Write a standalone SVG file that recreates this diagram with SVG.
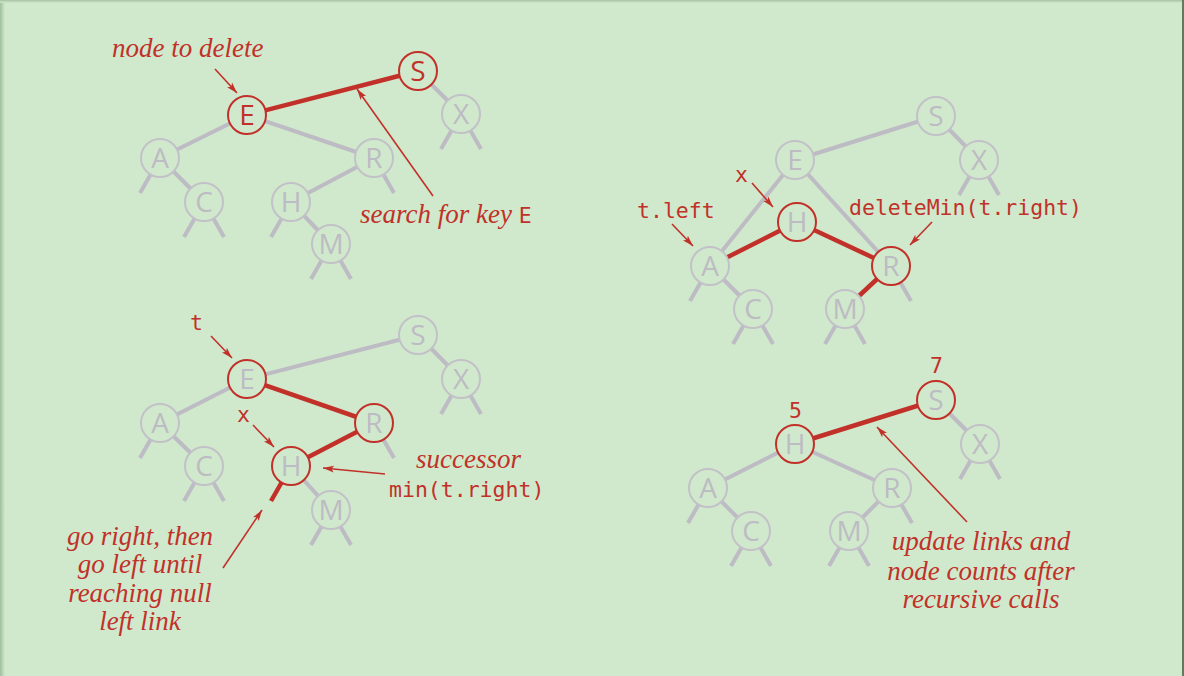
<svg xmlns="http://www.w3.org/2000/svg" width="1184" height="676" viewBox="0 0 1184 676">
<defs>
<style>
.bg{fill:#d0e9cc}
.g{stroke:#bdbbc3;stroke-width:4;fill:none;stroke-linecap:butt}
.r{stroke:#c1312a;stroke-width:4.5;fill:none}
.n{fill:#d0e9cc;stroke:#c3c1c8;stroke-width:2}
.nr{fill:#d0e9cc;stroke:#c1312a;stroke-width:2}
.lt{font-family:"Open Sans","DejaVu Sans",sans-serif;font-size:28px;fill:#bdbbc3;text-anchor:middle}
.ltr{font-family:"Open Sans","DejaVu Sans",sans-serif;font-size:28px;fill:#c1312a;text-anchor:middle}
.it{font-family:"Liberation Serif","Times New Roman",serif;font-style:italic;font-size:27px;fill:#c1312a}
.mo{font-family:"DejaVu Sans Mono","Liberation Mono",monospace;font-size:21.5px;fill:#c1312a}
.ar{stroke:#c1312a;stroke-width:1.6;fill:none;marker-end:url(#ah)}
</style>
<marker id="ah" markerUnits="userSpaceOnUse" markerWidth="12" markerHeight="8" refX="11" refY="4" orient="auto">
<path d="M0,0.6 L11,4 L0,7.4 L2.5,4 z" fill="#c1312a"/>
</marker>
<linearGradient id="shL" x1="0" y1="0" x2="1" y2="0">
<stop offset="0" stop-color="#9fbf9b"/><stop offset="1" stop-color="#d0e9cc"/>
</linearGradient>
<linearGradient id="shT" x1="0" y1="0" x2="0" y2="1">
<stop offset="0" stop-color="#a7c2a3"/><stop offset="1" stop-color="#d0e9cc"/>
</linearGradient>
</defs>
<rect class="bg" x="0" y="0" width="1184" height="676"/>
<rect x="0" y="0" width="5" height="676" fill="url(#shL)"/>
<rect x="0" y="0" width="1184" height="3" fill="url(#shT)"/>
<rect x="1182" y="0" width="2" height="676" fill="#5f7d5c"/>

<g id="connectors">
<!-- diagram 1 -->
<line class="g" x1="247" y1="115" x2="160" y2="158"/>
<line class="g" x1="160" y1="158" x2="204" y2="202"/>
<line class="g" x1="160" y1="158" x2="140" y2="193"/>
<line class="g" x1="204" y1="202" x2="184" y2="237"/>
<line class="g" x1="204" y1="202" x2="224" y2="237"/>
<line class="g" x1="247" y1="115" x2="374" y2="158"/>
<line class="g" x1="374" y1="158" x2="291" y2="202"/>
<line class="g" x1="374" y1="158" x2="394" y2="193"/>
<line class="g" x1="291" y1="202" x2="271" y2="237"/>
<line class="g" x1="291" y1="202" x2="331" y2="244"/>
<line class="g" x1="331" y1="244" x2="311" y2="279"/>
<line class="g" x1="331" y1="244" x2="351" y2="279"/>
<line class="g" x1="418" y1="71" x2="461" y2="114"/>
<line class="g" x1="461" y1="114" x2="441" y2="149"/>
<line class="g" x1="461" y1="114" x2="481" y2="149"/>
<line class="r" x1="247" y1="115" x2="418" y2="71"/>
<!-- diagram 2 -->
<line class="g" x1="936" y1="116" x2="795" y2="160"/>
<line class="g" x1="936" y1="116" x2="979" y2="160"/>
<line class="g" x1="979" y1="160" x2="959" y2="195"/>
<line class="g" x1="979" y1="160" x2="999" y2="195"/>
<line class="g" x1="795" y1="160" x2="710" y2="266"/>
<line class="g" x1="795" y1="160" x2="891" y2="266"/>
<line class="g" x1="710" y1="266" x2="690" y2="301"/>
<line class="g" x1="710" y1="266" x2="753" y2="309"/>
<line class="g" x1="753" y1="309" x2="733" y2="344"/>
<line class="g" x1="753" y1="309" x2="773" y2="344"/>
<line class="g" x1="845" y1="309" x2="825" y2="344"/>
<line class="g" x1="845" y1="309" x2="865" y2="344"/>
<line class="g" x1="891" y1="266" x2="911" y2="301"/>
<line class="r" x1="710" y1="266" x2="797" y2="222"/>
<line class="r" x1="797" y1="222" x2="891" y2="266"/>
<line class="r" x1="891" y1="266" x2="845" y2="309"/>
<!-- diagram 3 -->
<line class="g" x1="418" y1="335" x2="247" y2="379"/>
<line class="g" x1="418" y1="335" x2="461" y2="379"/>
<line class="g" x1="461" y1="379" x2="441" y2="414"/>
<line class="g" x1="461" y1="379" x2="481" y2="414"/>
<line class="g" x1="247" y1="379" x2="160" y2="423"/>
<line class="g" x1="160" y1="423" x2="140" y2="458"/>
<line class="g" x1="160" y1="423" x2="204" y2="466"/>
<line class="g" x1="204" y1="466" x2="184" y2="501"/>
<line class="g" x1="204" y1="466" x2="224" y2="501"/>
<line class="g" x1="374" y1="423" x2="394" y2="458"/>
<line class="g" x1="291" y1="466" x2="331" y2="510"/>
<line class="g" x1="331" y1="510" x2="311" y2="545"/>
<line class="g" x1="331" y1="510" x2="351" y2="545"/>
<line class="r" x1="247" y1="379" x2="374" y2="423"/>
<line class="r" x1="374" y1="423" x2="291" y2="466"/>
<line class="r" x1="291" y1="466" x2="271" y2="501"/>
<!-- diagram 4 -->
<line class="g" x1="795" y1="444" x2="708" y2="488"/>
<line class="g" x1="708" y1="488" x2="688" y2="523"/>
<line class="g" x1="708" y1="488" x2="751" y2="531"/>
<line class="g" x1="751" y1="531" x2="731" y2="566"/>
<line class="g" x1="751" y1="531" x2="771" y2="566"/>
<line class="g" x1="795" y1="444" x2="892" y2="488"/>
<line class="g" x1="892" y1="488" x2="849" y2="531"/>
<line class="g" x1="892" y1="488" x2="912" y2="523"/>
<line class="g" x1="849" y1="531" x2="829" y2="566"/>
<line class="g" x1="849" y1="531" x2="869" y2="566"/>
<line class="g" x1="936" y1="400" x2="980" y2="444"/>
<line class="g" x1="980" y1="444" x2="960" y2="479"/>
<line class="g" x1="980" y1="444" x2="1000" y2="479"/>
<line class="r" x1="795" y1="444" x2="936" y2="400"/>
<!-- annotation arrows -->
<line class="ar" x1="215" y1="69" x2="237" y2="93"/>
<line class="ar" x1="433" y1="196" x2="357" y2="89"/>
<line class="ar" x1="752" y1="183" x2="773" y2="207"/>
<line class="ar" x1="672" y1="224" x2="693" y2="246"/>
<line class="ar" x1="932" y1="222" x2="910" y2="245"/>
<line class="ar" x1="211" y1="336" x2="232" y2="358"/>
<line class="ar" x1="253" y1="425" x2="274" y2="447"/>
<line class="ar" x1="385" y1="474" x2="323" y2="468"/>
<line class="ar" x1="223" y1="568" x2="262" y2="510"/>
<line class="ar" x1="967" y1="522" x2="877" y2="427"/>
</g>

<!-- diagram 1 nodes -->
<g id="d1-A"><circle class="n" cx="160" cy="158" r="19"/><text class="lt" x="160" y="168">A</text></g>
<g id="d1-C"><circle class="n" cx="204" cy="202" r="19"/><text class="lt" x="204" y="212">C</text></g>
<g id="d1-E"><circle class="nr" cx="247" cy="115" r="19"/><text class="ltr" x="247" y="125">E</text></g>
<g id="d1-H"><circle class="n" cx="291" cy="202" r="19"/><text class="lt" x="291" y="212">H</text></g>
<g id="d1-M"><circle class="n" cx="331" cy="244" r="19"/><text class="lt" x="331" y="254">M</text></g>
<g id="d1-R"><circle class="n" cx="374" cy="158" r="19"/><text class="lt" x="374" y="168">R</text></g>
<g id="d1-S"><circle class="nr" cx="418" cy="71" r="19"/><text class="ltr" x="418" y="81">S</text></g>
<g id="d1-X"><circle class="n" cx="461" cy="114" r="19"/><text class="lt" x="461" y="124">X</text></g>

<!-- diagram 2 nodes -->
<g id="d2-S"><circle class="n" cx="936" cy="116" r="19"/><text class="lt" x="936" y="126">S</text></g>
<g id="d2-E"><circle class="n" cx="795" cy="160" r="19"/><text class="lt" x="795" y="170">E</text></g>
<g id="d2-X"><circle class="n" cx="979" cy="160" r="19"/><text class="lt" x="979" y="170">X</text></g>
<g id="d2-H"><circle class="nr" cx="797" cy="222" r="19"/><text class="lt" x="797" y="232">H</text></g>
<g id="d2-A"><circle class="n" cx="710" cy="266" r="19"/><text class="lt" x="710" y="276">A</text></g>
<g id="d2-R"><circle class="nr" cx="891" cy="266" r="19"/><text class="lt" x="891" y="276">R</text></g>
<g id="d2-C"><circle class="n" cx="753" cy="309" r="19"/><text class="lt" x="753" y="319">C</text></g>
<g id="d2-M"><circle class="n" cx="845" cy="309" r="19"/><text class="lt" x="845" y="319">M</text></g>

<!-- diagram 3 nodes -->
<g id="d3-S"><circle class="n" cx="418" cy="335" r="19"/><text class="lt" x="418" y="345">S</text></g>
<g id="d3-E"><circle class="nr" cx="247" cy="379" r="19"/><text class="lt" x="247" y="389">E</text></g>
<g id="d3-X"><circle class="n" cx="461" cy="379" r="19"/><text class="lt" x="461" y="389">X</text></g>
<g id="d3-A"><circle class="n" cx="160" cy="423" r="19"/><text class="lt" x="160" y="433">A</text></g>
<g id="d3-R"><circle class="nr" cx="374" cy="423" r="19"/><text class="lt" x="374" y="433">R</text></g>
<g id="d3-C"><circle class="n" cx="204" cy="466" r="19"/><text class="lt" x="204" y="476">C</text></g>
<g id="d3-H"><circle class="nr" cx="291" cy="466" r="19"/><text class="lt" x="291" y="476">H</text></g>
<g id="d3-M"><circle class="n" cx="331" cy="510" r="19"/><text class="lt" x="331" y="520">M</text></g>

<!-- diagram 4 nodes -->
<g id="d4-S"><circle class="nr" cx="936" cy="400" r="19"/><text class="lt" x="936" y="410">S</text></g>
<g id="d4-H"><circle class="nr" cx="795" cy="444" r="19"/><text class="lt" x="795" y="454">H</text></g>
<g id="d4-X"><circle class="n" cx="980" cy="444" r="19"/><text class="lt" x="980" y="454">X</text></g>
<g id="d4-A"><circle class="n" cx="708" cy="488" r="19"/><text class="lt" x="708" y="498">A</text></g>
<g id="d4-R"><circle class="n" cx="892" cy="488" r="19"/><text class="lt" x="892" y="498">R</text></g>
<g id="d4-C"><circle class="n" cx="751" cy="531" r="19"/><text class="lt" x="751" y="541">C</text></g>
<g id="d4-M"><circle class="n" cx="849" cy="531" r="19"/><text class="lt" x="849" y="541">M</text></g>

<g id="labels">
<text class="it" x="112" y="57">node to delete</text>
<text class="it" x="360" y="223">search for key <tspan class="mo" font-style="normal" font-size="23px">E</tspan></text>
<text class="mo" x="735" y="182">x</text>
<text class="mo" x="637" y="218">t.left</text>
<text class="mo" x="849" y="215">deleteMin(t.right)</text>
<text class="mo" x="190" y="330">t</text>
<text class="mo" x="237" y="422">x</text>
<text class="it" x="416" y="468">successor</text>
<text class="mo" x="389" y="497">min(t.right)</text>
<text class="it" x="140" y="545" text-anchor="middle">go right, then</text>
<text class="it" x="140" y="573" text-anchor="middle">go left until</text>
<text class="it" x="140" y="602" text-anchor="middle">reaching null</text>
<text class="it" x="140" y="630" text-anchor="middle">left link</text>
<text class="mo" x="789" y="418">5</text>
<text class="mo" x="930" y="373">7</text>
<text class="it" x="981" y="550" text-anchor="middle">update links and</text>
<text class="it" x="981" y="580" text-anchor="middle">node counts after</text>
<text class="it" x="981" y="608" text-anchor="middle">recursive calls</text>
</g>
</svg>
